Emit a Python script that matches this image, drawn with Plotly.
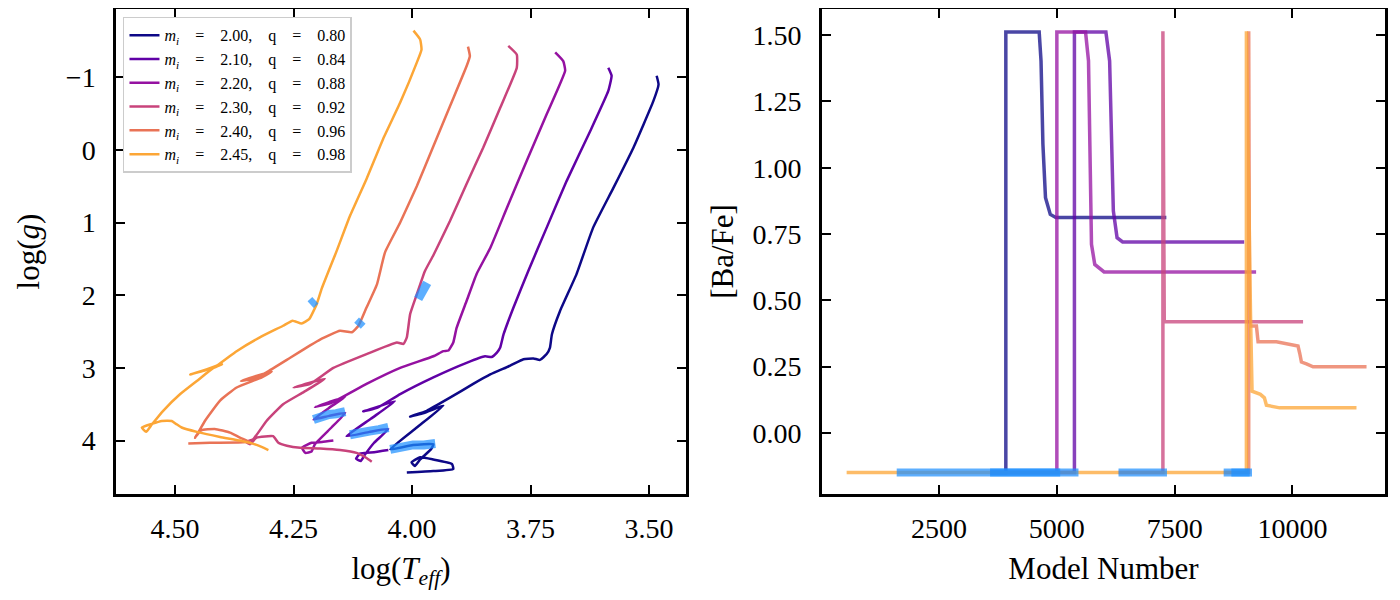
import plotly.graph_objects as go

# ---- left panel: log(Teff) / log(g) tracks ----
EQ = "&nbsp;&nbsp;&nbsp;&nbsp;=&nbsp;&nbsp;&nbsp;&nbsp;"
labels = [
    f"<i>m<sub>i</sub></i>{EQ}2.00,&nbsp;&nbsp;&nbsp; q{EQ}0.80",
    f"<i>m<sub>i</sub></i>{EQ}2.10,&nbsp;&nbsp;&nbsp; q{EQ}0.84",
    f"<i>m<sub>i</sub></i>{EQ}2.20,&nbsp;&nbsp;&nbsp; q{EQ}0.88",
    f"<i>m<sub>i</sub></i>{EQ}2.30,&nbsp;&nbsp;&nbsp; q{EQ}0.92",
    f"<i>m<sub>i</sub></i>{EQ}2.40,&nbsp;&nbsp;&nbsp; q{EQ}0.96",
    f"<i>m<sub>i</sub></i>{EQ}2.45,&nbsp;&nbsp;&nbsp; q{EQ}0.98",
]
colors = ["#0d0887", "#6001a6", "#9511a1", "#c8437b", "#e97356", "#fca636"]
colors_alpha = [
    "rgba(13,8,135,0.75)",
    "rgba(96,1,166,0.75)",
    "rgba(149,17,161,0.75)",
    "rgba(200,67,123,0.75)",
    "rgba(233,115,86,0.75)",
    "rgba(252,166,54,0.75)",
]

teff_200 = [4.011, 3.955, 3.913, 3.916, 3.955, 3.983, 4.001, 3.994, 3.983, 3.960, 3.955,
            3.998, 4.046, 3.990, 3.934, 3.975, 4.004, 3.969, 3.920, 3.871, 3.835, 3.793,
            3.765, 3.744, 3.730, 3.716, 3.709, 3.705, 3.688, 3.653, 3.618, 3.575, 3.533,
            3.491, 3.480, 3.484]
logg_200 = [4.44, 4.42, 4.39, 4.32, 4.26, 4.23, 4.30, 4.35, 4.26, 4.12, 4.05,
            4.06, 4.12, 3.82, 3.52, 3.62, 3.67, 3.59, 3.41, 3.22, 3.09, 2.97,
            2.88, 2.87, 2.89, 2.81, 2.72, 2.54, 2.22, 1.71, 1.07, 0.52, -0.03,
            -0.67, -0.90, -1.02]

teff_210 = [4.050, 4.080, 4.110, 4.118, 4.108, 4.100, 4.080, 4.050, 4.090, 4.138, 4.087,
            4.036, 4.070, 4.103, 4.074, 4.025, 3.955, 3.885, 3.846, 3.832, 3.821, 3.814,
            3.807, 3.786, 3.755, 3.716, 3.674, 3.624, 3.586, 3.579, 3.586]
logg_210 = [4.13, 4.16, 4.18, 4.25, 4.28, 4.20, 4.03, 3.84, 3.88, 3.94, 3.70,
            3.46, 3.53, 3.60, 3.55, 3.36, 3.13, 2.93, 2.84, 2.85, 2.79, 2.72,
            2.54, 2.17, 1.67, 1.07, 0.43, -0.26, -0.81, -1.02, -1.13]

teff_220 = [4.166, 4.190, 4.212, 4.232, 4.225, 4.212, 4.205, 4.170, 4.141, 4.175, 4.208,
            4.175, 4.141, 4.175, 4.205, 4.170, 4.096, 4.025, 3.955, 3.934, 3.923, 3.913,
            3.906, 3.885, 3.864, 3.835, 3.800, 3.758, 3.716, 3.677, 3.681, 3.698]
logg_220 = [4.00, 4.02, 4.03, 4.10, 4.17, 4.15, 4.05, 3.82, 3.62, 3.66, 3.71,
            3.55, 3.40, 3.47, 3.54, 3.48, 3.22, 3.00, 2.84, 2.77, 2.76, 2.65,
            2.45, 2.08, 1.71, 1.35, 0.80, 0.15, -0.49, -1.09, -1.22, -1.34]

teff_230 = [4.085, 4.096, 4.117, 4.152, 4.194, 4.236, 4.264, 4.282, 4.293, 4.328, 4.342,
            4.350, 4.335, 4.307, 4.272, 4.228, 4.184, 4.250, 4.215, 4.166, 4.096, 4.032,
            4.018, 4.011, 4.004, 3.990, 3.973, 3.955, 3.920, 3.885, 3.850, 3.814, 3.779,
            3.779, 3.797]
logg_230 = [4.29, 4.24, 4.17, 4.13, 4.11, 4.10, 4.07, 4.03, 3.94, 3.96, 4.05,
            4.02, 3.98, 3.73, 3.50, 3.33, 3.15, 3.27, 3.22, 3.00, 2.81, 2.65,
            2.67, 2.58, 2.26, 1.99, 1.67, 1.45, 0.98, 0.47, -0.03, -0.58, -1.13,
            -1.31, -1.43]

teff_240 = [4.472, 4.426, 4.342, 4.363, 4.384, 4.416, 4.445, 4.458, 4.452, 4.437, 4.405,
            4.370, 4.317, 4.296, 4.361, 4.335, 4.307, 4.257, 4.215, 4.194, 4.152, 4.127,
            4.113, 4.096, 4.074, 4.057, 4.025, 3.990, 3.955, 3.920, 3.885, 3.878, 3.882]
logg_240 = [4.04, 4.03, 4.02, 3.96, 3.89, 3.84, 3.86, 3.96, 3.90, 3.73, 3.45,
            3.27, 3.13, 3.05, 3.18, 3.15, 3.06, 2.86, 2.69, 2.61, 2.49, 2.51,
            2.42, 2.17, 1.85, 1.41, 1.00, 0.50, -0.05, -0.60, -1.15, -1.29, -1.42]

teff_245 = [4.303, 4.328, 4.363, 4.405, 4.454, 4.486, 4.498, 4.507, 4.528, 4.549, 4.570,
            4.561, 4.549, 4.525, 4.489, 4.454, 4.419, 4.401, 4.440, 4.468, 4.447, 4.412,
            4.370, 4.321, 4.272, 4.252, 4.233, 4.217, 4.201, 4.190, 4.159, 4.131, 4.096,
            4.061, 4.025, 3.990, 3.980, 3.983, 3.997]
logg_245 = [4.13, 4.06, 4.00, 3.95, 3.88, 3.82, 3.77, 3.73, 3.73, 3.77, 3.82,
            3.88, 3.78, 3.59, 3.36, 3.18, 3.00, 2.95, 3.04, 3.09, 3.05, 2.97,
            2.77, 2.58, 2.42, 2.35, 2.39, 2.33, 2.12, 1.90, 1.39, 0.91, 0.40,
            -0.15, -0.65, -1.20, -1.38, -1.52, -1.64]

tracks_teff = [teff_200, teff_210, teff_220, teff_230, teff_240, teff_245]
tracks_logg = [logg_200, logg_210, logg_220, logg_230, logg_240, logg_245]

# highlighted phases (blue) on each track
hl_teff = [
    [4.046, 4.020, 3.998, 3.975, 3.951],
    [4.131, 4.110, 4.090, 4.070, 4.050],
    [4.208, 4.190, 4.175, 4.160, 4.141],
    [3.987, 3.978, 3.968],
    [4.115, 4.110, 4.105],
    [4.214, 4.209, 4.204],
]
hl_logg = [
    [4.12, 4.08, 4.06, 4.06, 4.04],
    [3.92, 3.88, 3.87, 3.85, 3.82],
    [3.71, 3.66, 3.64, 3.63, 3.60],
    [2.05, 1.94, 1.83],
    [2.42, 2.38, 2.35],
    [2.13, 2.10, 2.07],
]

# ---- right panel: [Ba/Fe] against model number ----
model_200 = [3583, 3917, 3917, 4625, 4664, 4704, 4759, 4861, 4979, 7324]
bafe_200 = [-0.15, -0.15, 1.512, 1.512, 1.403, 1.089, 0.887, 0.824, 0.812, 0.812]
model_210 = [3583, 5373, 5373, 6041, 6120, 6160, 6199, 6278, 6396, 8977]
bafe_210 = [-0.15, -0.15, 1.512, 1.512, 1.403, 1.089, 0.837, 0.736, 0.720, 0.720]
model_220 = [3583, 5000, 5000, 5609, 5672, 5703, 5735, 5805, 6002, 9229]
bafe_220 = [-0.15, -0.15, 1.512, 1.512, 1.403, 1.089, 0.711, 0.635, 0.607, 0.607]
model_230 = [6309, 7251, 7251, 7280, 10226]
bafe_230 = [-0.15, -0.15, 1.515, 0.419, 0.419]
model_240 = [8541, 9072, 9072, 9090, 9236, 9271, 9660, 10119, 10155, 10191, 10298, 10438, 11573]
bafe_240 = [-0.15, -0.15, 1.515, 0.403, 0.403, 0.343, 0.343, 0.327, 0.300, 0.267, 0.260, 0.249, 0.249]
model_245 = [538, 9023, 9023, 9060, 9110, 9143, 9320, 9405, 9448, 9731, 11360]
bafe_245 = [-0.15, -0.15, 1.515, 1.000, 0.450, 0.157, 0.145, 0.132, 0.104, 0.094, 0.094]

tracks_model = [model_200, model_210, model_220, model_230, model_240, model_245]
tracks_bafe = [bafe_200, bafe_210, bafe_220, bafe_230, bafe_240, bafe_245]

hl_model_start = [1601, 3583, 6309, 8541, 8704]
hl_model_end = [5071, 5459, 7337, 9142, 9093]
hl_bafe = -0.15

HL_COLOR = "rgba(30,144,255,0.72)"
FONT = "Liberation Serif"

fig = go.Figure()

for teff, logg, col, lab in zip(tracks_teff, tracks_logg, colors, labels):
    fig.add_trace(go.Scatter(x=teff, y=logg, mode="lines", name=lab,
                             line={"color": col, "width": 2.5, "shape": "spline", "smoothing": 0.4},
                             xaxis="x", yaxis="y"))

for teff, logg in zip(hl_teff, hl_logg):
    fig.add_trace(go.Scatter(x=teff, y=logg, mode="lines", showlegend=False,
                             line={"color": HL_COLOR, "width": 9},
                             xaxis="x", yaxis="y"))

for model, bafe, col in zip(tracks_model, tracks_bafe, colors_alpha):
    fig.add_trace(go.Scatter(x=model, y=bafe, mode="lines", showlegend=False,
                             line={"color": col, "width": 3.5},
                             xaxis="x2", yaxis="y2"))

for m0, m1 in zip(hl_model_start, hl_model_end):
    fig.add_trace(go.Scatter(x=[m0, m1], y=[hl_bafe, hl_bafe], mode="lines", showlegend=False,
                             line={"color": HL_COLOR, "width": 8},
                             xaxis="x2", yaxis="y2"))

axis_style = dict(
    showline=True, linecolor="black", linewidth=2.5, mirror="ticks",
    ticks="inside", ticklen=9, tickwidth=2, tickcolor="black",
    showgrid=False, zeroline=False, automargin=False,
    tickfont={"family": FONT, "size": 28, "color": "black"},
)
title_font = {"family": FONT, "size": 31, "color": "black"}

# the page body adds an 8px offset, so the margins are trimmed by that much
fig.update_layout(
    width=1400, height=600,
    margin={"l": 108, "r": 23, "t": 1, "b": 114},
    paper_bgcolor="white", plot_bgcolor="white",
    font={"family": FONT, "color": "black"},
    xaxis=dict(axis_style, domain=[0, 0.4492], range=[4.6245, 3.422],
               tickvals=[4.50, 4.25, 4.00, 3.75, 3.50], tickformat=".2f", ticklabelstandoff=8,
               title={"text": "log(<i>T<sub>eff</sub></i>)", "font": title_font, "standoff": 14}),
    yaxis=dict(axis_style, domain=[0, 1], range=[4.735, -1.938],
               tickvals=[-1, 0, 1, 2, 3, 4], ticklabelstandoff=12,
               title={"text": "log(<i>g</i>)", "font": title_font, "standoff": 18}),
    xaxis2=dict(axis_style, domain=[0.5563, 1], range=[14, 11965], anchor="y2",
                tickvals=[2500, 5000, 7500, 10000], tickformat="d", ticklabelstandoff=8,
                title={"text": "Model Number", "font": title_font, "standoff": 14}),
    yaxis2=dict(axis_style, domain=[0, 1], range=[-0.231, 1.599], anchor="x2",
                tickvals=[0, 0.25, 0.5, 0.75, 1.0, 1.25, 1.5], tickformat=".2f", ticklabelstandoff=12,
                title={"text": "[Ba/Fe]", "font": title_font, "standoff": 10}),
    legend={"x": 0.0055, "y": 0.984, "xanchor": "left", "yanchor": "top",
            "bgcolor": "white", "bordercolor": "#cccccc", "borderwidth": 1.5,
            "font": {"family": FONT, "size": 16, "color": "black"},
            "itemwidth": 30, "tracegroupgap": 0},
)

fig.write_html("out.html")
